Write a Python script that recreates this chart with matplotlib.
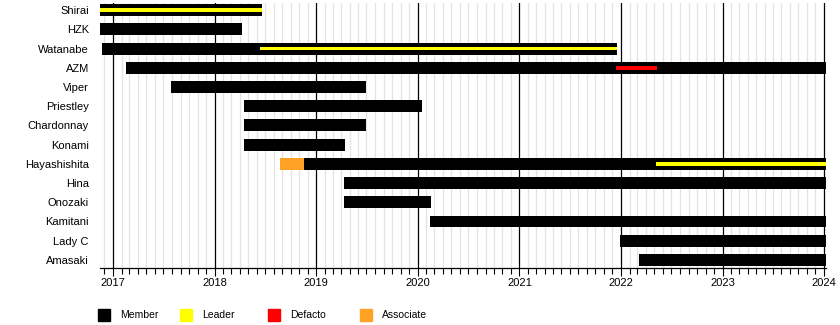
import matplotlib.pyplot as plt
import matplotlib.dates as mdates
from matplotlib.patches import Rectangle
import pandas as pd

plt.rcParams['font.family'] = ['Liberation Sans', 'DejaVu Sans']

# members, top to bottom
names = ["Shirai", "HZK", "Watanabe", "AZM", "Viper", "Priestley", "Chardonnay",
         "Konami", "Hayashishita", "Hina", "Onozaki", "Kamitani", "Lady C", "Amasaki"]
member_start = ["2016-11-15", "2016-11-15", "2016-11-22", "2017-02-15", "2017-07-30",
                "2018-04-15", "2018-04-15", "2018-04-15", "2018-11-20", "2019-04-12",
                "2019-04-12", "2020-02-15", "2021-12-28", "2022-03-08"]
member_end = ["2018-06-20", "2018-04-08", "2021-12-18", "2024-01-10", "2019-07-01",
              "2020-01-18", "2019-07-01", "2019-04-15", "2024-01-10", "2024-01-10",
              "2020-02-18", "2024-01-10", "2024-01-10", "2024-01-10"]

# leadership / other stints: (row, start, end)
leader = [("Shirai", "2016-11-15", "2018-06-20"),
          ("Watanabe", "2018-06-15", "2021-12-18"),
          ("Hayashishita", "2022-05-08", "2024-01-10")]
defacto = [("AZM", "2021-12-15", "2022-05-10")]
associate = [("Hayashishita", "2018-08-25", "2018-11-20")]

years = list(range(2017, 2025))

d = lambda s: mdates.date2num(pd.Timestamp(s))

fig = plt.figure(figsize=(8.4, 3.25), dpi=100)
ax = fig.add_axes([100 / 840, 1 - 268 / 325, 726 / 840, 265 / 325])

row = {n: i for i, n in enumerate(names)}

for n, s, e in zip(names, member_start, member_end):
    ax.barh(row[n], d(e) - d(s), left=d(s), height=0.62, color="black", zorder=3)
for n, s, e in associate:
    ax.barh(row[n], d(e) - d(s), left=d(s), height=0.62, color="#ffa226", zorder=3)
for n, s, e in leader:
    ax.barh(row[n], d(e) - d(s), left=d(s), height=0.2, color="#ffff00", zorder=4)
for n, s, e in defacto:
    ax.barh(row[n], d(e) - d(s), left=d(s), height=0.2, color="#ff0000", zorder=4)

ax.set_xlim(d("2016-11-15"), d("2024-01-08"))
ax.set_ylim(13.42, -0.37)
ax.set_yticks(range(len(names)))
ax.set_yticklabels(names, fontsize=8)
ax.tick_params(axis="y", length=0, pad=8)

ax.xaxis.set_major_locator(mdates.YearLocator())
ax.xaxis.set_major_formatter(mdates.DateFormatter("%Y"))
ax.xaxis.set_minor_locator(mdates.MonthLocator())
ax.tick_params(axis="x", which="major", length=6, width=0.8, labelsize=8, pad=1.5)
ax.tick_params(axis="x", which="minor", length=4, width=0.8)

ax.grid(which="minor", axis="x", color="#e4e4e4", linewidth=0.9, zorder=0)
ax.grid(which="major", axis="x", color="black", linewidth=0.9, zorder=1)
ax.set_axisbelow(True)

for sp in ["top", "right", "left"]:
    ax.spines[sp].set_visible(False)
ax.spines["bottom"].set_linewidth(0.9)

# legend along the bottom
items = [("Member", "black", 98), ("Leader", "#ffff00", 180),
         ("Defacto", "#ff0000", 268), ("Associate", "#ffa226", 360)]
for label, col, x in items:
    fig.add_artist(Rectangle((x / 840, 1 - 321 / 325), 12 / 840, 12 / 325,
                             transform=fig.transFigure, color=col))
    fig.text((x + 22) / 840, 1 - 315 / 325, label, fontsize=7.5, va="center")

fig.savefig("out.png", dpi=100)
